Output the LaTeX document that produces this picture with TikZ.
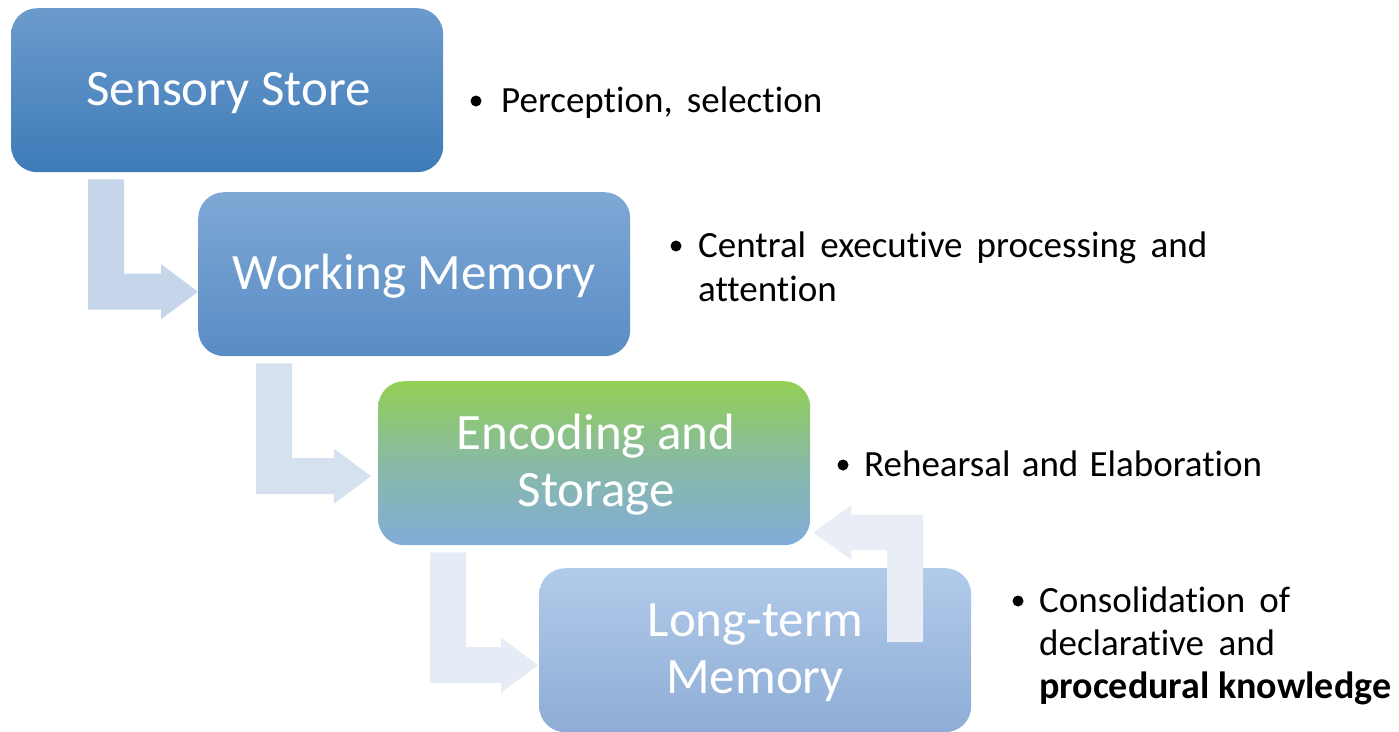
\documentclass[tikz,border=0pt]{standalone}
\usepackage{fontspec}
\setmainfont[Ligatures=NoCommon]{Carlito}
\usetikzlibrary{calc}

% stage fills (top / bottom of each gradient)
\definecolor{ssTop}{RGB}{108,155,204}
\definecolor{ssBot}{RGB}{61,123,184}
\definecolor{wmTop}{RGB}{126,168,213}
\definecolor{wmBot}{RGB}{90,140,196}
\definecolor{esTop}{RGB}{146,207,84}
\definecolor{esMid}{RGB}{136,186,165}
\definecolor{esBot}{RGB}{130,172,217}
\definecolor{ltTop}{RGB}{177,203,234}
\definecolor{ltBot}{RGB}{142,172,213}
% flow arrows, fading step by step
\definecolor{flowA}{RGB}{197,214,235}
\definecolor{flowB}{RGB}{214,225,240}
\definecolor{flowC}{RGB}{230,236,246}
\definecolor{flowD}{RGB}{232,237,246}

% bent block arrow: down from #1, then right into #2
% #3 bar offset from #1's left edge, #4/#5 tip offset from #2.west, #6 fill
\newcommand\elbowflow[6]{%
  \coordinate (eb-top) at ($(#1.south west)+(#3,7)$);
  \coordinate (eb-tip) at ($(#2.west)+(#5,#4)$);
  \fill[#6] (eb-top) -- ++(36,0) |- ($(eb-tip)+(-37,-18)$) -- ++(0,-9.5)
     -- (eb-tip) -- ($(eb-tip)+(-37,27.5)$) -- ++(0,-9.5) -| (eb-top) -- cycle;
}

\begin{document}
\begin{tikzpicture}[x=1pt,y=-1pt,
  stagebox/.style={rounded corners=26pt, minimum width=432pt, minimum height=164pt,
    inner sep=0pt, anchor=north west},
  stagetext/.style={text=white, font=\fontsize{51}{57}\selectfont, anchor=base, inner sep=0pt},
  note/.style={font=\fontsize{37}{44}\selectfont, anchor=base west, inner sep=0pt, text=black},
  dot/.style={circle, fill=black, inner sep=0pt, minimum size=11pt}]
\useasboundingbox (0,0) rectangle (1399,731);

% the four stages
\node[stagebox, top color=ssTop, bottom color=ssBot] (ss) at (11,8) {};
\node[stagebox, top color=wmTop, bottom color=wmBot] (wm) at (198,192) {};
\node[stagebox, top color=esTop, bottom color=esBot, middle color=esMid] (es) at (378,381) {};
\node[stagebox, top color=ltTop, bottom color=ltBot] (lt) at (539,568) {};

\node[stagetext] (ss-t) at ($(ss.center)+(1.5,15)$) {Sensory Store};
\node[stagetext] (wm-t) at ($(wm.center)+(0,15.5)$) {Working Memory};
\node[stagetext] (es-t1) at ($(es.center)+(2,-13.5)$) {Encoding and};
\node[stagetext] (es-t2) at ($(es.center)+(2,43.5)$) {Storage};

% forward flow
\elbowflow{ss}{wm}{77}{17.5}{0}{flowA}
\elbowflow{wm}{es}{58}{13}{-7}{flowB}
\elbowflow{es}{lt}{52}{15}{-1}{flowC}

\node[stagetext] (lt-t1) at ($(lt.center)+(0,-13.5)$) {Long-term};
\node[stagetext] (lt-t2) at ($(lt.center)+(0,43.5)$) {Memory};

% feedback from long-term memory up into encoding
\coordinate (fb-tip) at ($(es.south east)+(3,-13)$);
\coordinate (fb-bot) at ($(lt.north west)+(348,74)$);
\fill[flowD] (fb-bot) -- ++(36,0) |- ($(fb-tip)+(38,-17.5)$) -- ++(0,-10)
  -- (fb-tip) -- ($(fb-tip)+(38,27.5)$) -- ++(0,-10) -| (fb-bot) -- cycle;

% notes beside each stage
\node[dot] (d1) at (476,101) {};
\node[note] (n1) at (501,112) {\makebox[321pt][s]{Perception, selection}};

\node[dot] (d2) at (676,246) {};
\node[note] (n2a) at (698,257) {\makebox[509pt][s]{Central executive processing and}};
\node[note] (n2b) at (698,301) {attention};

\node[dot] (d3) at (843,465) {};
\node[note] (n3) at (864,476) {\makebox[398pt][s]{Rehearsal and Elaboration}};

\node[dot] (d4) at (1018,601) {};
\node[note] (n4a) at (1039,612) {\makebox[251pt][s]{Consolidation of}};
\node[note] (n4b) at (1039,655) {\makebox[236pt][s]{declarative and}};
\node[note, font=\fontsize{38}{44}\selectfont\bfseries] (n4c) at (1039,698) {procedural knowledge};
\end{tikzpicture}
\end{document}
